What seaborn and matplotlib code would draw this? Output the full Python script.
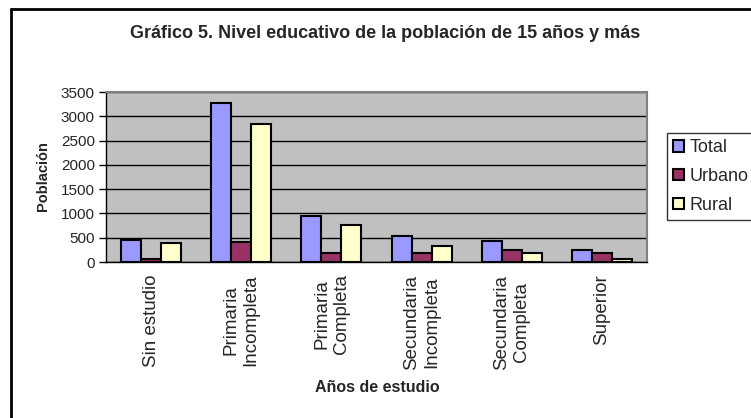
import matplotlib
matplotlib.use('Agg')
import matplotlib.pyplot as plt
import matplotlib.lines as mlines
import seaborn as sns
import pandas as pd

# Datos
categorias = ['Sin estudio', 'Primaria\nIncompleta', 'Primaria\nCompleta',
              'Secundaria\nIncompleta', 'Secundaria\nCompleta', 'Superior']
series = ['Total', 'Urbano', 'Rural']
total = [445, 3270, 945, 535, 425, 240]
urbano = [55, 420, 190, 190, 240, 190]
rural = [400, 2850, 770, 330, 190, 55]
colores = ['#9999FF', '#993366', '#FFFFCC']
yticks = [0, 500, 1000, 1500, 2000, 2500, 3000, 3500]

sns.set_style('white')
plt.rcParams['font.family'] = ['Liberation Sans', 'DejaVu Sans']

rows = []
for nombre, valores in zip(series, [total, urbano, rural]):
    for cat, v in zip(categorias, valores):
        rows.append({'categoria': cat, 'serie': nombre, 'poblacion': v})
df = pd.DataFrame(rows)

fig = plt.figure(figsize=(7.51, 4.18), dpi=100)
ax = fig.add_axes([106 / 751, 1 - 262 / 418, (647 - 106) / 751, 170 / 418])
ax.set_facecolor('#C0C0C0')

sns.barplot(data=df, x='categoria', y='poblacion', hue='serie', order=categorias,
            hue_order=series, palette=colores, width=0.667, saturation=1,
            edgecolor='black', linewidth=1.5, ax=ax, legend=False, zorder=3)

ax.set_ylim(0, 3500)
ax.set_yticks(yticks)
ax.set_yticklabels([str(t) for t in yticks], fontsize=11)
ax.yaxis.grid(True, color='black', linewidth=1, zorder=1)
ax.set_axisbelow(True)
ax.set_xlim(-0.5, 5.5)

# etiquetas en el centro, marcas entre categorias
ax.set_xticks(range(len(categorias)))
ax.set_xticklabels(categorias, rotation=90, fontsize=13.5, ha='center', va='top',
                   multialignment='center')
ax.tick_params(axis='x', which='major', length=0, pad=9)
ax.set_xticks([i - 0.5 for i in range(len(categorias) + 1)], minor=True)
ax.tick_params(axis='x', which='minor', length=5, width=1, color='black', direction='out')
ax.tick_params(axis='y', length=5, width=1, color='black', direction='out', left=True, pad=3)
ax.set_xlabel('')
ax.set_ylabel('')

for s in ['left', 'bottom']:
    ax.spines[s].set_color('black')
    ax.spines[s].set_linewidth(1)
for s in ['top', 'right']:
    ax.spines[s].set_visible(True)
    ax.spines[s].set_color('#808080')
    ax.spines[s].set_linewidth(1.5)

fig.text(385 / 751, 1 - 34 / 418, 'Gráfico 5. Nivel educativo de la población de 15 años y más',
         ha='center', va='center', fontsize=13, fontweight='bold')
fig.text(43 / 751, 1 - 176 / 418, 'Población', rotation=90, ha='center', va='center',
         fontsize=10.5, fontweight='bold')
fig.text(377 / 751, 1 - 387 / 418, 'Años de estudio', ha='center', va='center',
         fontsize=11.5, fontweight='bold')

handles = [plt.Rectangle((0, 0), 1, 1, facecolor=c, edgecolor='black', linewidth=1.5)
           for c in colores]
leg = fig.legend(handles, series, loc='upper left',
                 bbox_to_anchor=(667 / 751, 1 - 133 / 418), borderaxespad=0,
                 fontsize=13, frameon=True, fancybox=False, edgecolor='black',
                 handlelength=0.6, handleheight=0.6, handletextpad=0.3,
                 borderpad=0.35, labelspacing=0.65)
leg.get_frame().set_linewidth(1)

# borde del area del grafico
fig.add_artist(mlines.Line2D([11 / 751, 11 / 751], [0, 1 - 9 / 418],
                             color='black', linewidth=2, transform=fig.transFigure))
fig.add_artist(mlines.Line2D([11 / 751, 1], [1 - 9 / 418, 1 - 9 / 418],
                             color='black', linewidth=2, transform=fig.transFigure))

fig.savefig('out.png', dpi=100)
